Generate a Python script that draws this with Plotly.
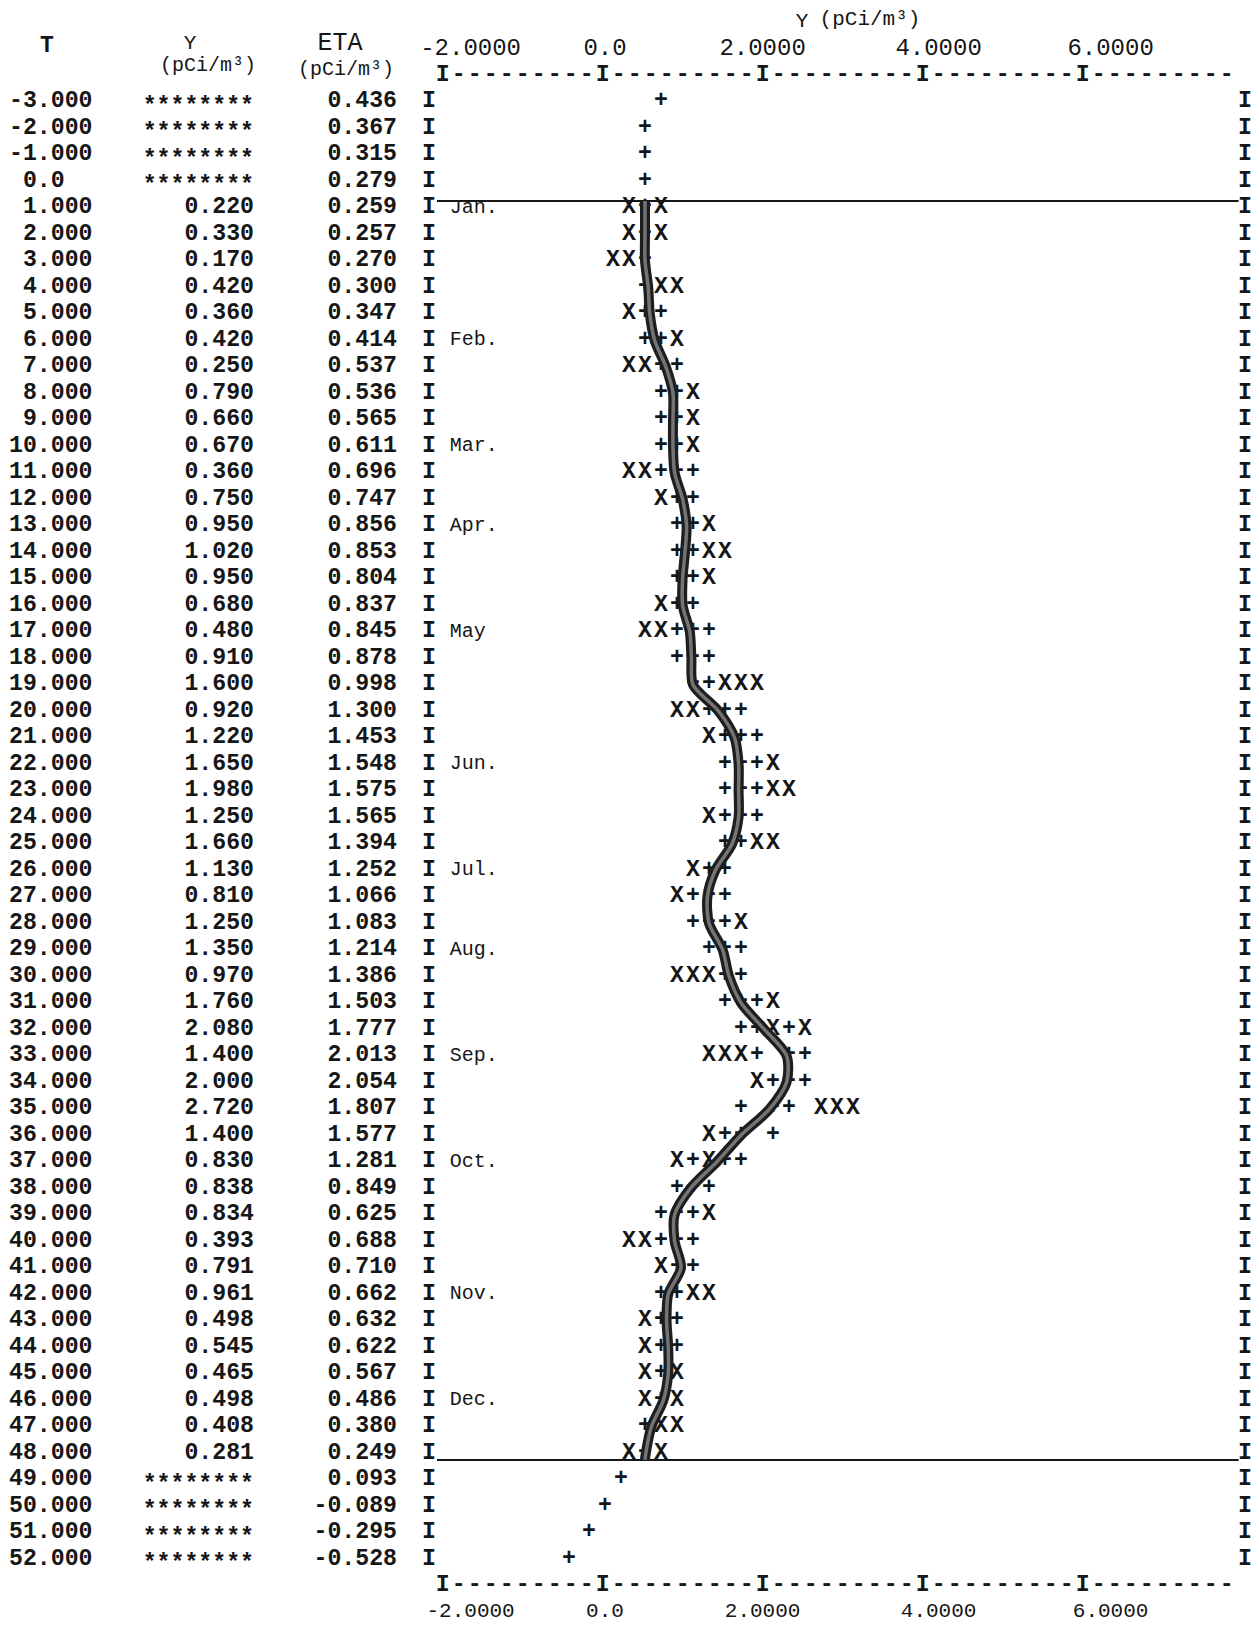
import plotly.graph_objects as go

# ---------------- data ----------------
T = list(range(-3, 53))

Y_OBS = [0.220, 0.330, 0.170, 0.420, 0.360, 0.420, 0.250, 0.790, 0.660, 0.670,
         0.360, 0.750, 0.950, 1.020, 0.950, 0.680, 0.480, 0.910, 1.600, 0.920,
         1.220, 1.650, 1.980, 1.250, 1.660, 1.130, 0.810, 1.250, 1.350, 0.970,
         1.760, 2.080, 1.400, 2.000, 2.720, 1.400, 0.830, 0.838, 0.834, 0.393,
         0.791, 0.961, 0.498, 0.545, 0.465, 0.498, 0.408, 0.281]  # T = 1..48

ETA = [0.436, 0.367, 0.315, 0.279, 0.259, 0.257, 0.270, 0.300, 0.347, 0.414,
       0.537, 0.536, 0.565, 0.611, 0.696, 0.747, 0.856, 0.853, 0.804, 0.837,
       0.845, 0.878, 0.998, 1.300, 1.453, 1.548, 1.575, 1.565, 1.394, 1.252,
       1.066, 1.083, 1.214, 1.386, 1.503, 1.777, 2.013, 2.054, 1.807, 1.577,
       1.281, 0.849, 0.625, 0.688, 0.710, 0.662, 0.632, 0.622, 0.567, 0.486,
       0.380, 0.249, 0.093, -0.089, -0.295, -0.528]  # T = -3..52

# '+' characters printed by the plotter (row T, position on Y scale)
PLUS_T = [-3, -2, -1, 0, 1, 2, 3, 4, 5, 5, 6, 6, 7, 7, 8, 8, 9, 9, 10, 10,
          11, 11, 11, 12, 12, 13, 13, 14, 14, 15, 15, 16, 16, 17, 17, 17,
          18, 18, 18, 19, 19, 20, 20, 20, 21, 21, 21, 22, 22, 22, 23, 23, 23,
          24, 24, 24, 25, 25, 26, 26, 27, 27, 27, 28, 28, 28, 29, 29, 29,
          30, 30, 31, 31, 31, 32, 32, 32, 33, 33, 33, 34, 34, 34, 35, 35, 35,
          36, 36, 36, 37, 37, 37, 38, 38, 38, 39, 39, 39, 40, 40, 40, 41, 41,
          42, 42, 43, 43, 44, 44, 45, 46, 47, 48, 49, 50, 51, 52]
PLUS_V = [0.6, 0.4, 0.4, 0.4, 0.4, 0.4, 0.4, 0.4, 0.4, 0.6, 0.4, 0.6, 0.6, 0.8,
          0.6, 0.8, 0.6, 0.8, 0.6, 0.8, 0.6, 0.8, 1.0, 0.8, 1.0, 0.8, 1.0,
          0.8, 1.0, 0.8, 1.0, 0.8, 1.0, 0.8, 1.0, 1.2, 0.8, 1.0, 1.2, 1.0, 1.2,
          1.2, 1.4, 1.6, 1.4, 1.6, 1.8, 1.4, 1.6, 1.8, 1.4, 1.6, 1.8, 1.4, 1.6,
          1.8, 1.4, 1.6, 1.2, 1.4, 1.0, 1.2, 1.4, 1.0, 1.2, 1.4, 1.2, 1.4, 1.6,
          1.4, 1.6, 1.4, 1.6, 1.8, 1.6, 1.8, 2.2, 1.8, 2.2, 2.4, 2.0, 2.2, 2.4,
          1.6, 2.0, 2.2, 1.4, 1.6, 2.0, 1.0, 1.4, 1.6, 0.8, 1.0, 1.2, 0.6, 0.8,
          1.0, 0.6, 0.8, 1.0, 0.8, 1.0, 0.6, 0.8, 0.6, 0.8, 0.6, 0.8, 0.6, 0.6,
          0.4, 0.4, 0.1, -0.1, -0.3, -0.55]

# 'X' characters (individual observations)
X_T = [1, 1, 2, 2, 3, 3, 4, 4, 5, 6, 7, 7, 8, 9, 10, 11, 11, 12, 13, 14, 14,
       15, 16, 17, 17, 19, 19, 19, 20, 20, 21, 22, 23, 23, 24, 25, 25, 26, 27,
       28, 30, 30, 30, 31, 32, 32, 33, 33, 33, 34, 35, 35, 35, 36, 37, 37, 39,
       40, 40, 41, 42, 42, 43, 44, 45, 45, 46, 46, 47, 47, 48, 48]
X_V = [0.2, 0.6, 0.2, 0.6, 0.0, 0.2, 0.6, 0.8, 0.2, 0.8, 0.2, 0.4, 1.0, 1.0,
       1.0, 0.2, 0.4, 0.6, 1.2, 1.2, 1.4, 1.2, 0.6, 0.4, 0.6, 1.4, 1.6, 1.8,
       0.8, 1.0, 1.2, 2.0, 2.0, 2.2, 1.2, 1.8, 2.0, 1.0, 0.8, 1.6, 0.8, 1.0,
       1.2, 2.0, 2.0, 2.4, 1.2, 1.4, 1.6, 1.8, 2.6, 2.8, 3.0, 1.2, 0.8, 1.2,
       1.2, 0.2, 0.4, 0.6, 1.0, 1.2, 0.4, 0.4, 0.4, 0.8, 0.4, 0.8, 0.6, 0.8,
       0.2, 0.6]

# hand-drawn smooth curve
CURVE_T = [0.75, 1, 2, 3, 4, 5, 6, 7, 8, 9, 10, 11, 12, 13, 14, 15, 16, 17,
           18, 19, 20, 21, 22, 23, 24, 25, 26, 27, 28, 29, 30, 31, 32, 33, 34,
           35, 36, 37, 38, 39, 40, 41, 42, 43, 44, 45, 46, 47, 48, 48.25]
CURVE_V = [0.40, 0.40, 0.40, 0.40, 0.44, 0.46, 0.52, 0.66, 0.75, 0.75, 0.75,
           0.77, 0.87, 0.92, 0.90, 0.87, 0.87, 0.96, 0.98, 1.00, 1.32, 1.52,
           1.57, 1.57, 1.57, 1.49, 1.28, 1.18, 1.20, 1.37, 1.45, 1.60, 1.89,
           2.17, 2.17, 1.96, 1.60, 1.30, 0.97, 0.77, 0.77, 0.85, 0.69, 0.67,
           0.69, 0.69, 0.63, 0.48, 0.41, 0.40]

MONTHS = ["Jan.", "Feb.", "Mar.", "Apr.", "May", "Jun.", "Jul.", "Aug.",
          "Sep.", "Oct.", "Nov.", "Dec."]
MONTH_T = [1, 6, 10, 13, 17, 22, 26, 29, 33, 37, 42, 46]

TICK_TEXT = ["-2.0000", "0.0", "2.0000", "4.0000", "6.0000"]
TICK_POS = [-2.13, -0.13, 1.87, 3.87, 5.87]        # printed 'I' tick marks
TICK_LABEL_X = [-1.78, -0.10, 1.87, 4.07, 6.22]    # centres of the labels

# ---------------- layout helpers ----------------
PX0, PXU = 613.0, 80.0          # pixel of Y=0, pixels per unit
PY0, PYR = 101.7, 26.5          # pixel of row T=-3, pixels per row
W, H = 1259, 1627


def vx(px):
    return (px - PX0) / PXU


def ty(py):
    return -3 + (py - PY0) / PYR


MONO = "Liberation Mono"
INK = "#161616"
nb = "\u00a0"
FS = 23.2   # printer character size

T_TEXT = [(" 0.0" if t == 0 else f"{t:6.3f}").replace(" ", nb) for t in T]
Y_ALL = [None] * 4 + Y_OBS + [None] * 4
ETA_TEXT = [f"{e:.3f}" for e in ETA]
Y_NUM_T = [t for t, v in zip(T, Y_ALL) if v is not None]
Y_NUM_TEXT = [f"{v:.3f}" for v in Y_ALL if v is not None]
Y_STAR_T = [t for t, v in zip(T, Y_ALL) if v is None]

fig = go.Figure()


def text_trace(x, y, text, pos="middle center", size=FS, weight="bold",
               color=INK, family=MONO):
    fig.add_trace(go.Scatter(
        x=x, y=y, text=text, mode="text", textposition=pos,
        textfont=dict(family=family, size=size, color=color, weight=weight),
        hoverinfo="skip", showlegend=False))


# table columns
text_trace([vx(9)] * len(T), T, T_TEXT, pos="middle right")
text_trace([vx(254)] * len(Y_NUM_T), Y_NUM_T, Y_NUM_TEXT, pos="middle left")
# overflow fields (no observation) printed as asterisks, centred on the row
text_trace([vx(254)] * len(Y_STAR_T), [t + 0.2 for t in Y_STAR_T],
           ["********"] * len(Y_STAR_T), pos="middle left")
text_trace([vx(397)] * len(T), T, ETA_TEXT, pos="middle left")

# column headers
text_trace([vx(47)], [ty(46)], ["T"], size=23)
text_trace([vx(190)], [ty(44)], ["Y"], size=21, weight="normal")
text_trace([vx(208)], [ty(66)], ["(pCi/m³)"], size=20, weight="normal")
text_trace([vx(340)], [ty(44)], ["ETA"], size=25, weight="normal")
text_trace([vx(346)], [ty(70)], ["(pCi/m³)"], size=20, weight="normal")

# title over the plot
text_trace([vx(802)], [ty(22)], ["Y"], size=21, weight="normal")
text_trace([vx(870)], [ty(20)], ["(pCi/m³)"], size=21, weight="normal")

# frame: row border characters
text_trace([-2.3] * len(T), T, ["I"] * len(T))
text_trace([7.9] * len(T), T, ["I"] * len(T))

# axes rows (top and bottom)
dash_x = [round(p + 0.2 * k, 2) for p in TICK_POS for k in range(1, 10)]
for row, lab_row, lab_size in ((-4, -5, 24), (53, 54, 21)):
    text_trace(dash_x, [row] * len(dash_x), ["-"] * len(dash_x))
    text_trace(TICK_POS, [row] * len(TICK_POS), ["I"] * len(TICK_POS))
    text_trace(TICK_LABEL_X, [lab_row] * len(TICK_TEXT), TICK_TEXT,
               size=lab_size, weight="normal")

# horizontal rules bounding the observed year
for yy in (0.75, 48.26):
    fig.add_trace(go.Scatter(x=[-2.2, 7.82], y=[yy, yy], mode="lines",
                             line=dict(color=INK, width=2),
                             hoverinfo="skip", showlegend=False))

# month labels
text_trace([-2.04] * len(MONTHS), MONTH_T, MONTHS, pos="middle right",
           size=20, weight="normal")

# plotted characters
text_trace(PLUS_V, PLUS_T, ["+"] * len(PLUS_T))
text_trace(X_V, X_T, ["X"] * len(X_T))

# hand-drawn curve (dark outline, grey core)
fig.add_trace(go.Scatter(x=CURVE_V, y=CURVE_T, mode="lines",
                         line=dict(color="#1e1e1e", width=10, shape="spline",
                                   smoothing=0.8),
                         hoverinfo="skip", showlegend=False))
fig.add_trace(go.Scatter(x=CURVE_V, y=CURVE_T, mode="lines",
                         line=dict(color="#747474", width=3.5, shape="spline",
                                   smoothing=0.8),
                         hoverinfo="skip", showlegend=False))

fig.update_layout(
    width=W, height=H, margin=dict(l=0, r=0, t=0, b=0),
    paper_bgcolor="white", plot_bgcolor="white", showlegend=False,
    xaxis=dict(range=[vx(0), vx(W)], visible=False, fixedrange=True),
    yaxis=dict(range=[ty(H), ty(0)], visible=False, fixedrange=True),
)

fig.write_html("out.html", config={"displayModeBar": False})
